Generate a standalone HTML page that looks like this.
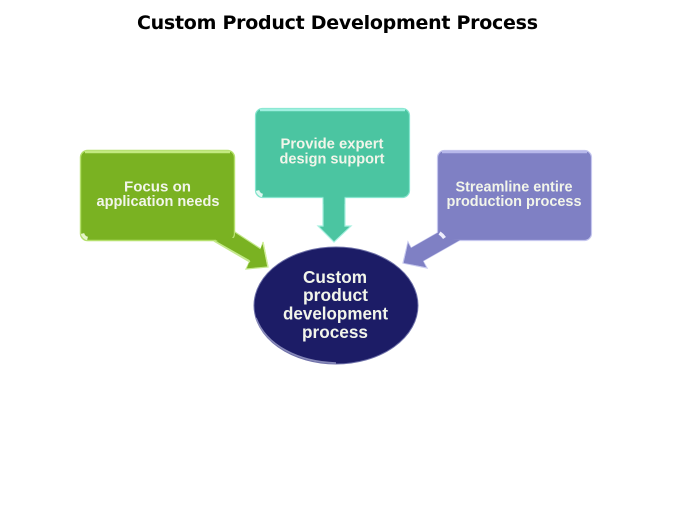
<!DOCTYPE html>
<html>
<head>
<meta charset="utf-8">
<style>
html,body{margin:0;padding:0;background:#fff;width:675px;height:506px;overflow:hidden}
svg{display:block}
text{font-family:"Liberation Sans",sans-serif;font-weight:bold;text-anchor:middle}
.w{fill:#f2f5ea}
</style>
</head>
<body>
<svg width="675" height="506" viewBox="0 0 675 506" xmlns="http://www.w3.org/2000/svg">
<defs>
<filter id="b" x="-5%" y="-5%" width="110%" height="110%"><feGaussianBlur stdDeviation="0.35"/></filter>
</defs>
<rect width="675" height="506" fill="#fff"/>
<text x="337.5" y="29" font-size="19" fill="#000" textLength="401" lengthAdjust="spacing" style="font-family:'DejaVu Sans',sans-serif">Custom Product Development Process</text>

<g filter="url(#b)">
<!-- Green -->
<path d="M213 240L250 261L246 269L268 267L263 242L261 249L235 232Z" fill="#7ab223" stroke="#c4e88c" stroke-width="1.2"/>
<rect x="80.5" y="150.5" width="154" height="90" rx="7" fill="#7ab223" stroke="#b5e06d" stroke-width="1.4"/>
<path d="M85 152H230" stroke="#c3ea80" stroke-width="2.4" fill="none"/>
<path d="M82.5 233.5q1 4 5 5" stroke="#e6f5c8" stroke-width="3.5" fill="none"/>
<path d="M216 240L250 260L247 268L267 266L262.5 244L260 250L235 233V238H216Z" fill="#7ab223"/>
<path d="M214 241L250 262" stroke="#c4e88c" stroke-width="1.5" fill="none"/>
<path d="M263 242L268 267" stroke="#d2ee9e" stroke-width="1.4" fill="none"/>

<!-- Teal -->
<path d="M323 196V226H318L334 242L351 226H345V196Z" fill="#4cc5a1" stroke="#a8f0e0" stroke-width="1.2"/>
<rect x="255.5" y="108.5" width="154" height="89" rx="7" fill="#4cc5a1" stroke="#86e6cf" stroke-width="1.2"/>
<path d="M260 110H405" stroke="#a0f0e0" stroke-width="2.4" fill="none"/>
<path d="M257.5 190.5q1 4 5 5" stroke="#e2f8f2" stroke-width="3.5" fill="none"/>
<rect x="323.5" y="194" width="21" height="10" fill="#4cc5a1"/>

<!-- Purple -->
<path d="M439 232L411 248L408 242L403 263L427 268L423 261L460 240Z" fill="#7f80c4" stroke="#c6c8ee" stroke-width="1.2"/>
<rect x="437.5" y="150.5" width="154" height="90" rx="7" fill="#7f80c4" stroke="#c5c6ee" stroke-width="1.2"/>
<path d="M442 152H587" stroke="#b7b8ea" stroke-width="2.4" fill="none"/>
<path d="M439 232L411 248L408 243L404 263L426 267L423 261L460 240L442 239Z" fill="#7f80c4"/>
<path d="M439.5 233q3 2 5 5" stroke="#eeeefc" stroke-width="3.5" fill="none"/>

<!-- Ellipse -->
<ellipse cx="336" cy="305.5" rx="82" ry="58.5" fill="#1a1c66" stroke="#6e70a8" stroke-width="1"/>
<path d="M256 318C266 345 298 362 336 363" stroke="#8688b8" stroke-width="1.6" fill="none"/>
</g>

<!-- Labels -->
<g filter="url(#b)">
<text class="w" x="157.5" y="191.5" font-size="14.5" textLength="67" lengthAdjust="spacingAndGlyphs">Focus on</text>
<text class="w" x="158" y="206" font-size="14.5" textLength="123" lengthAdjust="spacingAndGlyphs">application needs</text>
<text class="w" x="332" y="148.5" font-size="14.5" textLength="103" lengthAdjust="spacingAndGlyphs">Provide expert</text>
<text class="w" x="332" y="163.5" font-size="14.5" textLength="105" lengthAdjust="spacingAndGlyphs">design support</text>
<text class="w" x="514" y="191.5" font-size="14.5" textLength="117" lengthAdjust="spacingAndGlyphs">Streamline entire</text>
<text class="w" x="514" y="206" font-size="14.5" textLength="135" lengthAdjust="spacingAndGlyphs">production process</text>
<text class="w" x="335" y="283" font-size="17.5" textLength="64" lengthAdjust="spacingAndGlyphs">Custom</text>
<text class="w" x="335.5" y="301" font-size="17.5" textLength="65" lengthAdjust="spacingAndGlyphs">product</text>
<text class="w" x="335.5" y="319.5" font-size="17.5" textLength="105" lengthAdjust="spacingAndGlyphs">development</text>
<text class="w" x="335" y="338" font-size="17.5" textLength="66" lengthAdjust="spacingAndGlyphs">process</text>
</g>
</svg>
</body>
</html>
